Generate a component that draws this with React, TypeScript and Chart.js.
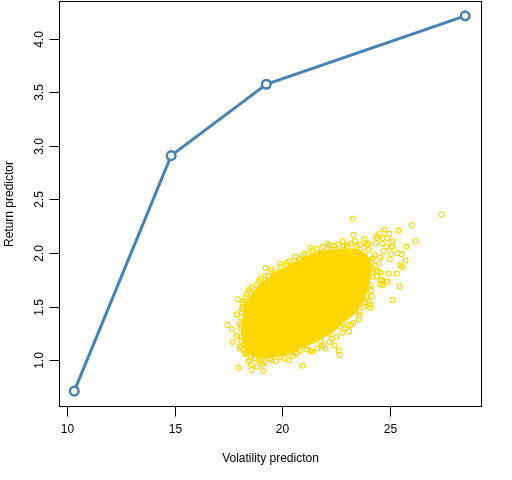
import { useEffect, useRef } from "react";
import { Chart, registerables } from "chart.js";

Chart.register(...registerables);

// Line series (predictor path)
const lineVol = [10.34, 14.84, 19.26, 28.5];
const lineRet = [0.712, 2.909, 3.575, 4.213];

// Dense core of the simulated cloud (outline)
const coreVol = [18.19, 18.33, 18.61, 19.07, 19.67, 20.37, 21.16, 21.86, 22.69, 23.48, 23.9, 24.09, 24.0, 23.77, 23.4, 22.93, 22.37, 21.63, 20.84, 20.14, 19.31, 18.66, 18.29, 18.15];
const coreRet = [1.36, 1.52, 1.61, 1.71, 1.8, 1.88, 1.96, 2.01, 2.03, 2.03, 1.98, 1.88, 1.71, 1.57, 1.45, 1.38, 1.28, 1.19, 1.12, 1.06, 1.03, 1.05, 1.12, 1.24];

// Individual simulated points around the core
const cloudVol = [
  23.27, 27.4, 26.01, 25.4, 26.19, 24.75, 24.97, 24.52, 24.37, 23.31, 22.1, 22.1, 22.8, 23.36, 23.82, 24.01, 24.4, 24.67, 24.89, 25.12,
  25.08, 25.36, 25.54, 25.77, 25.73, 25.48, 25.57, 25.32, 25.45, 25.11, 24.94, 24.86, 24.66, 24.55, 24.4, 24.16, 24.09, 23.85, 23.59, 23.11,
  23.03, 22.69, 22.43, 22.62, 22.66, 22.01, 21.64, 21.15, 20.94, 20.83, 20.62, 19.91, 19.13, 18.57, 17.97, 18.82, 19.07, 18.44, 18.28, 18.02,
  17.69, 17.46, 17.66, 17.89, 17.94, 18.16, 18.2, 18.57, 19.18, 19.22, 19.92, 19.84, 19.63, 20.56, 20.83, 21.19, 21.41, 21.76, 22.46, 22.85,
  17.89, 18.02, 18.05, 18.2, 18.33, 18.54, 19.13, 19.44, 20.37, 21.76, 22.15, 18.75, 18.98, 20.14, 23.47, 23.93, 24.34, 24.63, 24.83, 25.11,
  25.06, 24.71, 24.55, 24.99, 24.55, 24.43, 24.63, 24.89, 24.55, 24.09, 24.32, 24.4, 22.99, 18.7, 19.0, 19.5, 20.1, 20.5, 21.4, 21.9,
  22.3, 22.8, 23.3, 23.6, 23.9, 24.1, 24.2, 23.8, 22.4, 21.6, 20.9, 20.2, 19.5, 18.9, 18.5, 18.3, 18.1, 18.05, 18.1, 24.3,
  24.5, 24.25, 24.2,
  18.1, 18.12, 18.2, 18.35, 18.45, 18.8, 19.0, 19.35, 19.5, 19.9, 20.3, 20.6, 21.0, 21.3, 21.9, 22.2, 22.6, 23.0, 23.2, 23.6,
  24.0, 24.15, 24.2, 24.12, 24.0, 23.8, 23.55, 23.2, 22.9, 22.5, 22.2, 21.8, 21.3, 20.7, 20.3, 19.7, 19.2, 18.9, 18.55, 18.35,
  18.2, 18.08, 18.12,
];
const cloudRet = [
  2.32, 2.36, 2.26, 2.21, 2.11, 2.22, 2.18, 2.18, 2.16, 2.17, 2.09, 2.05, 2.11, 2.11, 2.13, 2.09, 2.14, 2.14, 2.14, 2.11,
  2.06, 2.0, 1.99, 2.06, 1.93, 1.89, 1.87, 1.81, 1.69, 1.56, 1.81, 1.73, 1.7, 1.75, 1.83, 1.6, 1.49, 1.54, 1.42, 1.27,
  1.33, 1.32, 1.14, 1.09, 1.05, 1.11, 1.11, 1.1, 0.95, 1.09, 1.06, 1.03, 0.9, 0.91, 0.93, 0.94, 0.96, 0.99, 1.06, 1.11,
  1.17, 1.33, 1.29, 1.23, 1.57, 1.53, 1.5, 1.68, 1.79, 1.86, 1.87, 1.82, 1.8, 1.93, 1.94, 1.99, 2.02, 2.0, 2.04, 2.07,
  1.43, 1.34, 1.13, 1.1, 1.06, 0.96, 1.03, 1.02, 1.07, 1.18, 1.25, 1.61, 1.68, 1.82, 2.07, 2.08, 2.09, 2.09, 2.06, 2.06,
  1.99, 2.02, 1.96, 1.94, 1.82, 1.83, 1.75, 1.73, 1.71, 1.52, 1.88, 1.78, 2.08, 1.02, 1.0, 1.0, 1.02, 1.04, 1.08, 1.14,
  1.2, 1.26, 1.35, 1.45, 1.6, 1.7, 1.95, 2.05, 2.07, 2.04, 1.97, 1.9, 1.83, 1.74, 1.64, 1.58, 1.45, 1.3, 1.18, 1.98,
  1.9, 1.85, 1.78,
  1.4, 1.48, 1.56, 1.62, 1.66, 1.7, 1.76, 1.78, 1.85, 1.9, 1.92, 1.97, 1.99, 2.05, 2.06, 2.07, 2.08, 2.06, 2.09, 2.08,
  2.03, 1.92, 1.82, 1.65, 1.55, 1.5, 1.38, 1.33, 1.3, 1.22, 1.17, 1.13, 1.09, 1.07, 1.0, 0.99, 0.98, 1.0, 1.03, 1.08,
  1.15, 1.22, 1.32,
];

// Axis ticks and titles
const xTicks = [10, 15, 20, 25];
const yTicks = [1.0, 1.5, 2.0, 2.5, 3.0, 3.5, 4.0];
const xTitle = "Volatility predicton";
const yTitle = "Return predictor";

const FONT = '12px "Liberation Sans", Arial, Helvetica, sans-serif';

const rPlot = {
  id: "rPlot",
  beforeDatasetsDraw(chart: any) {
    const { ctx } = chart;
    const xs = chart.scales.x;
    const ys = chart.scales.y;
    ctx.save();
    ctx.beginPath();
    coreVol.forEach((v, i) => {
      const px = xs.getPixelForValue(v);
      const py = ys.getPixelForValue(coreRet[i]);
      if (i === 0) ctx.moveTo(px, py);
      else ctx.lineTo(px, py);
    });
    ctx.closePath();
    ctx.fillStyle = "#FFD700";
    ctx.fill();
    ctx.lineWidth = 3;
    ctx.strokeStyle = "#FFD700";
    ctx.stroke();
    ctx.restore();
  },
  afterDraw(chart: any) {
    const { ctx, chartArea } = chart;
    const xs = chart.scales.x;
    const ys = chart.scales.y;
    ctx.save();
    ctx.strokeStyle = "#000";
    ctx.fillStyle = "#000";
    ctx.lineWidth = 1;
    ctx.strokeRect(chartArea.left, chartArea.top, chartArea.right - chartArea.left, chartArea.bottom - chartArea.top);
    ctx.font = FONT;
    // x ticks
    ctx.textAlign = "center";
    ctx.textBaseline = "alphabetic";
    xTicks.forEach((t) => {
      const px = Math.round(xs.getPixelForValue(t)) + 0.5;
      ctx.beginPath();
      ctx.moveTo(px, chartArea.bottom);
      ctx.lineTo(px, chartArea.bottom + 10);
      ctx.stroke();
      ctx.fillText(String(t), px, 433);
    });
    // y ticks
    yTicks.forEach((t) => {
      const py = Math.round(ys.getPixelForValue(t)) + 0.5;
      ctx.beginPath();
      ctx.moveTo(chartArea.left, py);
      ctx.lineTo(chartArea.left - 10, py);
      ctx.stroke();
      ctx.save();
      ctx.translate(42.8, py);
      ctx.rotate(-Math.PI / 2);
      ctx.textAlign = "center";
      ctx.fillText(t.toFixed(1), 0, 0);
      ctx.restore();
    });
    // titles
    const cx = (chartArea.left + chartArea.right) / 2;
    const cy = (chartArea.top + chartArea.bottom) / 2;
    ctx.textAlign = "center";
    ctx.fillText(xTitle, cx, 461.5);
    ctx.save();
    ctx.translate(12.5, cy);
    ctx.rotate(-Math.PI / 2);
    ctx.fillText(yTitle, 0, 0);
    ctx.restore();
    ctx.restore();
  },
};

export default function App() {
  const ref = useRef<HTMLCanvasElement>(null);
  useEffect(() => {
    const canvas = ref.current;
    if (!canvas) return;
    const chart = new Chart(canvas, {
      type: "scatter",
      data: {
        datasets: [
          {
            label: "cloud",
            data: cloudVol.map((v, i) => ({ x: v, y: cloudRet[i] })),
            pointStyle: "circle",
            pointRadius: 2.5,
            pointBorderWidth: 1.1,
            pointBorderColor: "#FFD700",
            pointBackgroundColor: "rgba(0,0,0,0)",
            showLine: false,
            order: 2,
          },
          {
            label: "path",
            data: lineVol.map((v, i) => ({ x: v, y: lineRet[i] })),
            showLine: true,
            borderColor: "#4682B4",
            borderWidth: 3,
            pointStyle: "circle",
            pointRadius: 4.3,
            pointBorderWidth: 2.5,
            pointBorderColor: "#4682B4",
            pointBackgroundColor: "#ffffff",
            order: 1,
          },
        ],
      },
      options: {
        responsive: false,
        animation: false,
        events: [],
        layout: { autoPadding: false, padding: { left: 59.5, right: 30.5, top: 1.5, bottom: 73.5 } },
        plugins: { legend: { display: false }, tooltip: { enabled: false } },
        scales: {
          x: { type: "linear", display: false, min: 9.655, max: 29.255 },
          y: { type: "linear", display: false, min: 0.569, max: 4.347 },
        },
      },
      plugins: [rPlot],
    });
    return () => chart.destroy();
  }, []);
  return (
    <div style={{ position: "fixed", left: 0, top: 0, width: 512, height: 480, background: "#fff" }}>
      <canvas ref={ref} width={512} height={480} style={{ display: "block", width: 512, height: 480 }} />
    </div>
  );
}
